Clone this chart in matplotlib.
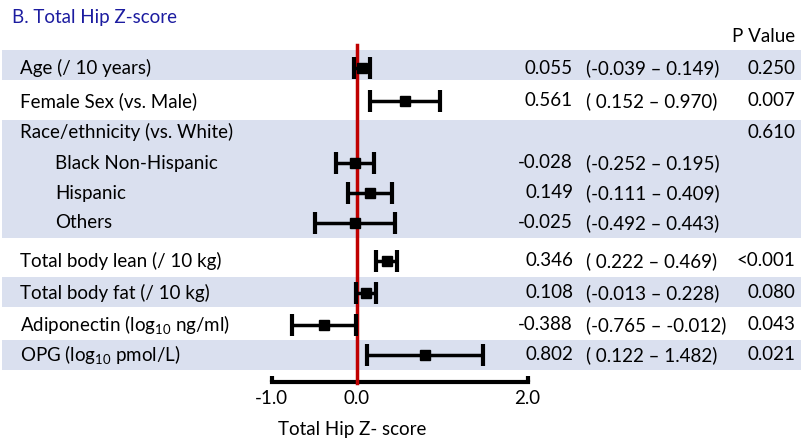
import matplotlib
matplotlib.use('Agg')
import matplotlib.pyplot as plt

plt.rcParams['font.family'] = ['Lato', 'DejaVu Sans']
plt.rcParams['mathtext.fontset'] = 'custom'
plt.rcParams['mathtext.rm'] = 'Lato'
plt.rcParams['mathtext.it'] = 'Lato:italic'

# data
labels = ['Age (/ 10 years)', 'Female Sex (vs. Male)', 'Race/ethnicity (vs. White)',
          'Black Non-Hispanic', 'Hispanic', 'Others',
          'Total body lean (/ 10 kg)', 'Total body fat (/ 10 kg)',
          'Adiponectin (log$_{10}$ ng/ml)', 'OPG (log$_{10}$ pmol/L)']
indent = [0, 0, 0, 1, 1, 1, 0, 0, 0, 0]
est = [0.055, 0.561, None, -0.028, 0.149, -0.025, 0.346, 0.108, -0.388, 0.802]
lo = [-0.039, 0.152, None, -0.252, -0.111, -0.492, 0.222, -0.013, -0.765, 0.122]
hi = [0.149, 0.970, None, 0.195, 0.409, 0.443, 0.469, 0.228, -0.012, 1.482]
pvals = ['0.250', '0.007', '0.610', '', '', '', '<0.001', '0.080', '0.043', '0.021']
scale_ticks = [-1.0, 0.0, 2.0]

# layout (pixel rows)
row_y = [68, 101, 132, 163, 193, 223, 261, 293, 325, 355]
bands = [(50, 80), (120, 238), (277, 307), (340, 370)]
px_per_unit = 85.3
x0 = 357

fig = plt.figure(figsize=(8.01, 4.41), dpi=100)
ax = fig.add_axes([0, 0, 1, 1])
ax.set_xlim(-x0 / px_per_unit, (801 - x0) / px_per_unit)
ax.set_ylim(441, 0)
ax.axis('off')

def px(x):
    return (x - x0) / px_per_unit

band_col = '#dae0ef'
for top, bot in bands:
    ax.axhspan(top, bot, xmin=2 / 801, xmax=1, color=band_col, lw=0, zorder=0)

fs = 13.5
ax.text(px(12), 17, 'B. Total Hip Z-score', color='#1c1ca0', fontsize=fs, va='center')
ax.text(px(795), 36, 'P Value', fontsize=fs, va='center', ha='right')

for i, y in enumerate(row_y):
    ax.text(px(20 + 35 * indent[i]), y, labels[i], fontsize=fs, va='center')
    if est[i] is not None:
        ax.errorbar(est[i], y, xerr=[[est[i] - lo[i]], [hi[i] - est[i]]],
                    fmt='s', color='black', ms=7.5, elinewidth=2.5, capsize=8,
                    capthick=3, zorder=4)
        ax.text(px(573), y, f'{est[i]:.3f}', fontsize=fs, va='center', ha='right')
        lo_s = f'{lo[i]:.3f}' if lo[i] < 0 else f' {lo[i]:.3f}'
        ax.text(px(586), y, f'({lo_s} \u2013 {hi[i]:.3f})', fontsize=fs, va='center', ha='left')
    if pvals[i]:
        ax.text(px(795), y, pvals[i], fontsize=fs, va='center', ha='right')

# reference line
ax.plot([0, 0], [45, 383], color='#c00000', lw=2.5, zorder=3)

# scale axis
ax_y = 382
ax.plot([scale_ticks[0], scale_ticks[-1]], [ax_y, ax_y], color='black', lw=3, zorder=2)
for t in [scale_ticks[0], scale_ticks[-1]]:
    ax.plot([t, t], [ax_y, ax_y - 6], color='black', lw=3, solid_capstyle='butt')
for t in scale_ticks:
    ax.text(t, 398, f'{t:.1f}', fontsize=fs, ha='center', va='center')
ax.text(px(352), 430, 'Total Hip Z- score', fontsize=fs, ha='center', va='center')

fig.savefig('out.png', dpi=100)
